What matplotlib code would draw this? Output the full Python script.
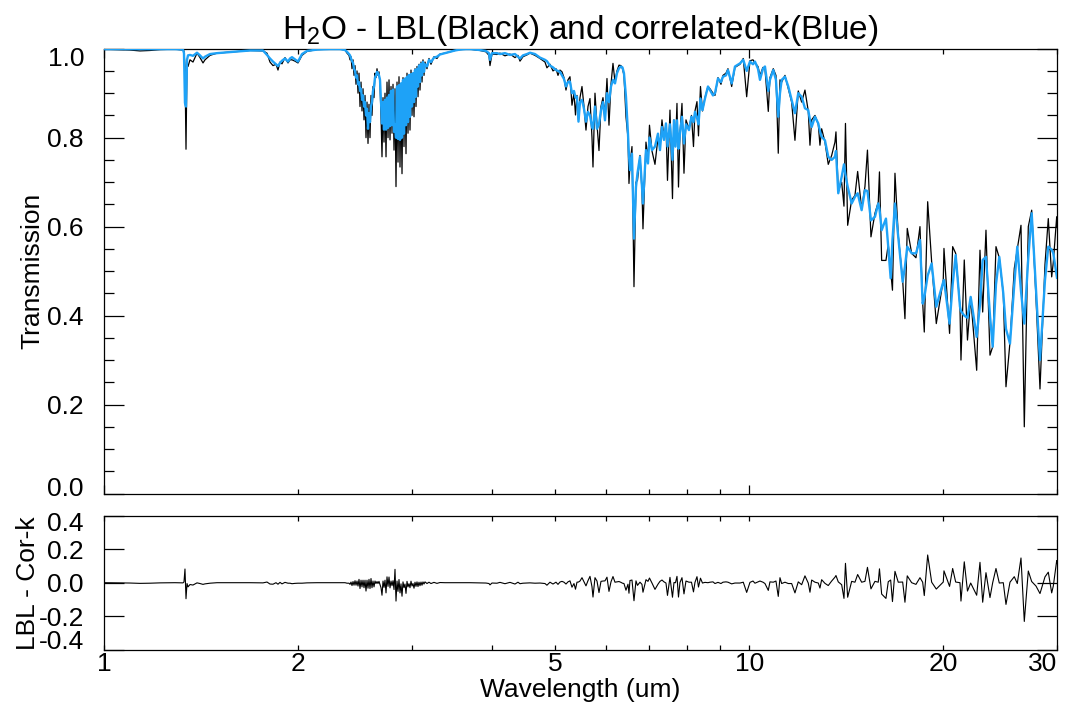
import numpy as np
import matplotlib
matplotlib.use("Agg")
import matplotlib.pyplot as plt

plt.rcParams['font.family'] = ['Liberation Sans', 'DejaVu Sans']
plt.rcParams['mathtext.fontset'] = 'custom'
plt.rcParams['mathtext.rm'] = 'Liberation Sans'
plt.rcParams['mathtext.it'] = 'Liberation Sans:italic'

# ---------------- data ----------------
# wavelength (um), correlated-k transmission, line-by-line transmission
wl_a = [1.0000, 1.0972, 1.1371, 1.1784, 1.2212, 1.2884, 1.3257, 1.3304, 1.3351, 1.3400,
        1.3448, 1.3496, 1.3592, 1.3738, 1.3936, 1.4086, 1.4238, 1.4340, 1.4598, 1.4967,
        1.5847, 1.6838, 1.7637]
ck_a = [0.999, 0.999, 0.999, 0.999, 0.999, 0.999, 0.998, 0.990, 0.878, 0.870,
        0.975, 0.985, 0.986, 0.984, 0.991, 0.985, 0.978, 0.982, 0.988, 0.990,
        0.993, 0.996, 0.996]
lbl_a = [0.999, 0.997, 0.995, 0.996, 0.998, 0.999, 0.997, 0.995, 0.960, 0.774,
         0.970, 0.960, 0.975, 0.970, 0.990, 0.980, 0.968, 0.975, 0.985, 0.990,
         0.993, 0.996, 0.995]

wl_c = [1.7891, 1.8083, 1.8278, 1.8475, 1.8607, 1.8741, 1.8875, 1.9078, 1.9284, 1.9422,
        1.9561, 1.9771, 1.9984, 2.0272, 2.0637, 2.1387, 2.2403, 2.3216]
ck_c = [0.986, 0.978, 0.971, 0.965, 0.961, 0.968, 0.973, 0.978, 0.971, 0.978,
        0.981, 0.976, 0.971, 0.988, 0.995, 0.998, 0.999, 0.999]
lbl_c = [0.990, 0.970, 0.962, 0.965, 0.952, 0.970, 0.966, 0.980, 0.968, 0.975,
         0.975, 0.972, 0.968, 0.985, 0.994, 0.998, 0.999, 0.999]

wl_e = [2.3636, 2.3805, 2.3975, 2.4061, 2.4147, 2.4233, 2.4320, 2.4407, 2.4494, 2.4582,
        2.4669, 2.4758, 2.4846, 2.4935, 2.5024, 2.5113, 2.5203, 2.5293, 2.5384, 2.5474,
        2.5565, 2.5657, 2.5748, 2.5840, 2.5933, 2.6025, 2.6118, 2.6212, 2.6305, 2.6399,
        2.6494, 2.6588, 2.6683, 2.6779, 2.6875]
ck_e = [0.997, 0.993, 0.988, 0.985, 0.978, 0.972, 0.968, 0.955, 0.950, 0.935,
        0.940, 0.920, 0.925, 0.905, 0.910, 0.885, 0.895, 0.870, 0.880, 0.850,
        0.865, 0.820, 0.855, 0.835, 0.870, 0.880, 0.905, 0.915, 0.935, 0.940,
        0.948, 0.945, 0.940, 0.930, 0.880]
lbl_e = [0.997, 0.990, 0.985, 0.975, 0.982, 0.955, 0.975, 0.940, 0.962, 0.920,
         0.950, 0.900, 0.945, 0.870, 0.925, 0.860, 0.910, 0.840, 0.895, 0.800,
         0.880, 0.787, 0.875, 0.800, 0.895, 0.850, 0.915, 0.890, 0.945, 0.935,
         0.955, 0.940, 0.948, 0.920, 0.850]

wl_d = [2.6971, 2.7068, 2.7165, 2.7262, 2.7360, 2.7457, 2.7556, 2.7654, 2.7753, 2.7852,
        2.7952, 2.8052, 2.8152, 2.8252, 2.8353, 2.8455, 2.8556, 2.8658, 2.8761, 2.8864,
        2.8967, 2.9070, 2.9174, 2.9278, 2.9383, 2.9488, 2.9593, 2.9699, 2.9805, 2.9912,
        3.0019, 3.0126, 3.0234, 3.0342, 3.0450, 3.0559, 3.0668, 3.0778, 3.0888, 3.0998,
        3.1109, 3.1220, 3.1332]
ck_d = [0.832, 0.880, 0.818, 0.885, 0.818, 0.890, 0.822, 0.896, 0.826, 0.905,
        0.828, 0.908, 0.813, 0.830, 0.800, 0.915, 0.797, 0.918, 0.795, 0.922,
        0.800, 0.930, 0.809, 0.933, 0.828, 0.937, 0.835, 0.941, 0.847, 0.943,
        0.870, 0.945, 0.880, 0.952, 0.892, 0.955, 0.915, 0.962, 0.925, 0.966,
        0.940, 0.970, 0.948]
lbl_d = [0.757, 0.890, 0.790, 0.900, 0.757, 0.925, 0.800, 0.930, 0.795, 0.915,
         0.810, 0.920, 0.772, 0.910, 0.690, 0.925, 0.745, 0.937, 0.734, 0.915,
         0.719, 0.935, 0.780, 0.925, 0.764, 0.945, 0.810, 0.935, 0.817, 0.952,
         0.850, 0.940, 0.847, 0.955, 0.870, 0.960, 0.892, 0.965, 0.907, 0.970,
         0.925, 0.975, 0.940]

wl_p = [3.1444, 3.1669, 3.1895, 3.2123, 3.2468, 3.2816, 3.3168, 3.3765, 3.4373, 3.4991,
        3.5620, 3.6388]
ck_p = [0.965, 0.960, 0.975, 0.970, 0.980, 0.982, 0.987, 0.990, 0.993, 0.996,
        0.998, 0.999]
lbl_p = [0.970, 0.955, 0.978, 0.965, 0.982, 0.978, 0.988, 0.990, 0.993, 0.996,
         0.998, 0.999]

wl_f = [3.6926, 3.8261, 3.9086, 3.9510, 3.9652, 3.9936, 4.0650, 4.1092, 4.1831, 4.2585,
        4.3352, 4.3817, 4.4133, 4.4609, 4.5242, 4.5736, 4.6560, 4.7398, 4.8251, 4.8589,
        4.9120, 4.9650, 5.0182, 5.0543]
ck_f = [0.999, 0.997, 0.995, 0.990, 0.975, 0.990, 0.990, 0.988, 0.990, 0.986,
        0.988, 0.982, 0.978, 0.985, 0.988, 0.991, 0.988, 0.980, 0.975, 0.972,
        0.962, 0.958, 0.952, 0.950]
lbl_f = [0.999, 0.996, 0.993, 0.985, 0.962, 0.988, 0.987, 0.990, 0.984, 0.988,
         0.980, 0.985, 0.972, 0.982, 0.986, 0.990, 0.985, 0.978, 0.970, 0.957,
         0.965, 0.950, 0.955, 0.940]

wl_g = [5.0905, 5.1270, 5.1637, 5.2007, 5.2380, 5.2755, 5.3133, 5.3514, 5.3801, 5.4090,
        5.4380, 5.4671, 5.5063, 5.5457, 5.5854, 5.6255, 5.6658, 5.7064, 5.7268, 5.7678,
        5.8092, 5.8508, 5.8925, 5.9347, 5.9772, 6.0201, 6.0632, 6.1067, 6.1504, 6.1945,
        6.2389, 6.2836, 6.3284, 6.3624, 6.3966, 6.4424, 6.4886, 6.5118, 6.5351, 6.5819,
        6.6291, 6.6766, 6.7124, 6.7725, 6.8210, 6.8454, 6.9191, 6.9687, 7.0061, 7.0689,
        7.1450, 7.2219, 7.2736, 7.3257, 7.3782, 7.4310, 7.4710, 7.5379, 7.6055, 7.6463,
        7.6873, 7.7286, 7.7701, 7.8118, 7.8678, 7.9241, 7.9809, 8.0669, 8.1391, 8.1974,
        8.2414, 8.3004, 8.3450, 8.4046, 8.4648, 8.5407, 8.6326]
ck_g = [0.948, 0.940, 0.932, 0.915, 0.925, 0.926, 0.900, 0.905, 0.890, 0.892,
        0.836, 0.880, 0.885, 0.865, 0.836, 0.858, 0.850, 0.824, 0.820, 0.870,
        0.820, 0.830, 0.862, 0.880, 0.839, 0.900, 0.880, 0.915, 0.930, 0.922,
        0.945, 0.956, 0.960, 0.958, 0.945, 0.892, 0.809, 0.760, 0.727, 0.764,
        0.573, 0.689, 0.720, 0.757, 0.690, 0.652, 0.772, 0.742, 0.800, 0.772,
        0.780, 0.809, 0.772, 0.824, 0.795, 0.832, 0.780, 0.830, 0.750, 0.839,
        0.780, 0.839, 0.775, 0.809, 0.847, 0.787, 0.830, 0.817, 0.847, 0.835,
        0.858, 0.845, 0.830, 0.888, 0.862, 0.888, 0.915]
lbl_g = [0.952, 0.948, 0.935, 0.907, 0.930, 0.937, 0.873, 0.900, 0.851, 0.895,
         0.840, 0.890, 0.915, 0.870, 0.817, 0.870, 0.888, 0.800, 0.734, 0.900,
         0.830, 0.771, 0.870, 0.890, 0.850, 0.933, 0.828, 0.920, 0.967, 0.925,
         0.950, 0.963, 0.962, 0.955, 0.940, 0.847, 0.800, 0.697, 0.740, 0.780,
         0.465, 0.700, 0.704, 0.760, 0.680, 0.595, 0.790, 0.750, 0.828, 0.770,
         0.740, 0.800, 0.780, 0.840, 0.800, 0.830, 0.704, 0.862, 0.663, 0.840,
         0.780, 0.877, 0.689, 0.810, 0.877, 0.720, 0.840, 0.820, 0.850, 0.780,
         0.860, 0.881, 0.804, 0.915, 0.860, 0.890, 0.915]

wl_h = [8.6944, 8.7880, 8.8510, 8.9463, 9.0425, 9.1073, 9.2053, 9.2713, 9.3945, 9.5058,
        9.6770, 9.7916, 9.9112, 10.0286, 10.1366, 10.2092, 10.3191, 10.393, 10.505, 10.580,
        10.706, 10.770, 10.898, 11.003, 11.094, 11.162, 11.230, 11.363, 11.498, 11.637,
        11.775, 11.915, 12.060, 12.203, 12.347, 12.423, 12.499, 12.647, 12.797, 12.874,
        12.952, 13.106, 13.261, 13.423, 13.582, 13.631, 13.743, 13.911, 14.026, 14.101,
        14.212, 14.416, 14.587, 14.728]
ck_h = [0.907, 0.895, 0.900, 0.933, 0.925, 0.937, 0.940, 0.952, 0.922, 0.960,
        0.967, 0.975, 0.950, 0.971, 0.965, 0.971, 0.955, 0.930, 0.955, 0.960,
        0.905, 0.930, 0.952, 0.930, 0.847, 0.900, 0.930, 0.937, 0.915, 0.885,
        0.855, 0.900, 0.892, 0.866, 0.862, 0.840, 0.824, 0.847, 0.832, 0.815,
        0.802, 0.794, 0.757, 0.750, 0.757, 0.770, 0.675, 0.712, 0.740, 0.716,
        0.690, 0.652, 0.667, 0.675]
lbl_h = [0.910, 0.900, 0.895, 0.935, 0.920, 0.940, 0.945, 0.955, 0.915, 0.958,
         0.965, 0.978, 0.892, 0.973, 0.975, 0.968, 0.960, 0.940, 0.958, 0.955,
         0.859, 0.935, 0.955, 0.940, 0.765, 0.930, 0.925, 0.940, 0.910, 0.880,
         0.794, 0.905, 0.880, 0.907, 0.860, 0.783, 0.840, 0.850, 0.830, 0.783,
         0.820, 0.790, 0.740, 0.760, 0.790, 0.813, 0.680, 0.700, 0.646, 0.832,
         0.603, 0.660, 0.670, 0.724]

wl_i = [14.939, 15.116, 15.252, 15.444, 15.666, 15.852, 15.920, 16.045, 16.293, 16.428,
        16.569, 16.676, 16.826, 17.025, 17.294, 17.436, 17.580, 17.859, 18.135, 18.396,
        18.574, 18.681, 18.909, 19.181, 19.499, 19.991, 20.041, 20.446, 20.673, 20.896,
        21.219, 21.295, 21.547, 21.795, 22.046, 22.523, 22.790, 23.011, 23.283, 23.618,
        23.847, 24.129, 24.415, 24.766, 25.006, 25.366, 25.758, 26.036, 26.382, 26.695,
        27.079, 27.409, 27.833, 28.233, 28.741, 29.082, 29.437, 29.606, 29.967, 30.0]
ck_i = [0.637, 0.682, 0.680, 0.614, 0.622, 0.652, 0.640, 0.592, 0.618, 0.554,
        0.484, 0.570, 0.652, 0.577, 0.476, 0.510, 0.555, 0.540, 0.540, 0.570,
        0.427, 0.440, 0.490, 0.517, 0.420, 0.476, 0.480, 0.382, 0.470, 0.536,
        0.420, 0.410, 0.400, 0.395, 0.442, 0.352, 0.425, 0.525, 0.532, 0.400,
        0.330, 0.470, 0.532, 0.450, 0.370, 0.337, 0.470, 0.555, 0.455, 0.382,
        0.530, 0.630, 0.460, 0.300, 0.480, 0.555, 0.548, 0.540, 0.490, 0.485]
lbl_i = [0.640, 0.690, 0.772, 0.577, 0.630, 0.655, 0.723, 0.524, 0.524, 0.560,
         0.500, 0.457, 0.720, 0.580, 0.480, 0.393, 0.596, 0.540, 0.530, 0.600,
         0.430, 0.363, 0.656, 0.520, 0.382, 0.480, 0.551, 0.360, 0.555, 0.540,
         0.420, 0.300, 0.525, 0.345, 0.440, 0.277, 0.547, 0.408, 0.592, 0.311,
         0.330, 0.555, 0.530, 0.450, 0.240, 0.340, 0.506, 0.550, 0.603, 0.150,
         0.600, 0.637, 0.440, 0.235, 0.515, 0.618, 0.487, 0.520, 0.622, 0.600]

title_text = r'H$_{\mathrm{2}}$O - LBL(Black) and correlated-k(Blue)'
x_tick_values = [1, 2, 5, 10, 20, 30]
x_tick_labels = ['1', '2', '5', '10', '20', '30']
x_minor_values = [3, 4, 6, 7, 8, 9]
top_y_ticks = [0.0, 0.2, 0.4, 0.6, 0.8, 1.0]
top_y_labels = ['0.0', '0.2', '0.4', '0.6', '0.8', '1.0']
bot_y_ticks = [-0.4, -0.2, 0.0, 0.2, 0.4]
bot_y_labels = ['-0.4', '-0.2', '0.0', '0.2', '0.4']

wavelength = np.array(wl_a + wl_c + wl_e + wl_d + wl_p + wl_f + wl_g + wl_h + wl_i)
trans_ck = np.array(ck_a + ck_c + ck_e + ck_d + ck_p + ck_f + ck_g + ck_h + ck_i)
trans_lbl = np.array(lbl_a + lbl_c + lbl_e + lbl_d + lbl_p + lbl_f + lbl_g + lbl_h + lbl_i)
residual = trans_lbl - trans_ck

# ---------------- figure ----------------
W, H = 1076, 718
fig = plt.figure(figsize=(W / 100, H / 100), dpi=100)
fig.patch.set_facecolor('white')

L, R = 104, 1057
top_t, top_b = 48.7, 493.5
bot_t, bot_b = 515.9, 649.5

ax1 = fig.add_axes([L / W, 1 - top_b / H, (R - L) / W, (top_b - top_t) / H])
ax2 = fig.add_axes([L / W, 1 - bot_b / H, (R - L) / W, (bot_b - bot_t) / H])

BLUE = '#1EA2F7'
ax1.plot(wavelength, trans_lbl, color='black', lw=0.9, zorder=2)
ax1.plot(wavelength, trans_ck, color=BLUE, lw=1.7, zorder=3)
ax2.plot(wavelength, residual, color='black', lw=0.8, zorder=2)

FS = 19
for ax in (ax1, ax2):
    ax.set_xscale('log')
    ax.set_xlim(1, 30)
    ax.set_xticks(x_tick_values)
    ax.set_xticks(x_minor_values, minor=True)
    ax.xaxis.set_minor_formatter(matplotlib.ticker.NullFormatter())
    ax.tick_params(axis='x', which='both', direction='in', top=True, bottom=True,
                   length=3.3, width=0.9)
    ax.tick_params(axis='y', which='major', direction='in', left=True, right=True,
                   length=14.4, width=0.9, labelleft=False)
    for s in ax.spines.values():
        s.set_linewidth(0.9)
    for t, v in zip(ax.xaxis.get_major_ticks(), x_tick_values):
        if v in (1, 10):
            t.tick1line.set_markersize(6.5)
            t.tick2line.set_markersize(6.5)

ax1.set_ylim(0, 1.0)
ax1.set_yticks(top_y_ticks)
ax1.set_yticks(np.arange(0, 1.0001, 0.05), minor=True)
ax1.tick_params(axis='y', which='minor', direction='in', left=True, right=True,
                length=7.2, width=0.9)
ax1.tick_params(axis='x', labelbottom=False)

ax2.set_ylim(-0.4, 0.4)
ax2.set_yticks(bot_y_ticks)
ax2.set_xticklabels(x_tick_labels)
ax2.tick_params(axis='x', labelsize=FS, pad=1.5)
xt = ax2.xaxis.get_major_ticks()
xt[-1].label1.set_ha('right')


def ylabels(ax, vals, labels, dy_first, dy_last):
    n = len(vals)
    for i, (v, s) in enumerate(zip(vals, labels)):
        dy = dy_first if i == 0 else (dy_last if i == n - 1 else 0)
        ax.annotate(s, xy=(0, v), xycoords=('axes fraction', 'data'),
                    xytext=(-14.4, dy), textcoords='offset points',
                    ha='right', va='center_baseline', fontsize=FS, annotation_clip=False)


ylabels(ax1, top_y_ticks, top_y_labels, 5.4, -5.3)
ylabels(ax2, bot_y_ticks, bot_y_labels, 7.0, -4.3)

fig.text(580.5 / W, 1 - 30 / H, title_text, ha='center', va='center', fontsize=24)
fig.text(32 / W, 1 - 271 / H, 'Transmission', rotation=90, ha='center', va='center', fontsize=FS)
fig.text(28 / W, 1 - 583 / H, 'LBL - Cor-k', rotation=90, ha='center', va='center', fontsize=FS)
fig.text(580.5 / W, 1 - 690 / H, 'Wavelength (um)', ha='center', va='center', fontsize=FS)

fig.savefig('out.png', dpi=100, facecolor='white')
